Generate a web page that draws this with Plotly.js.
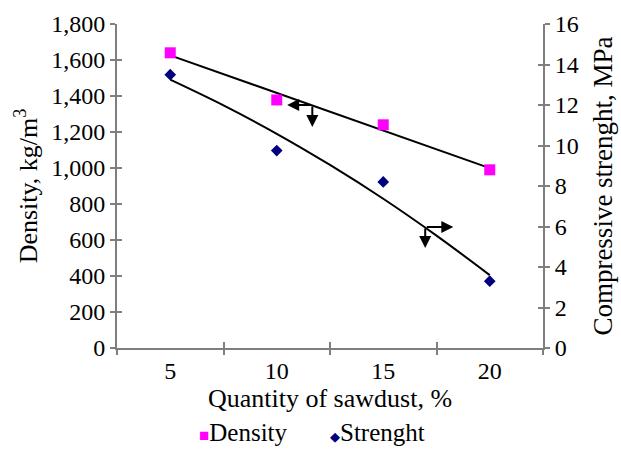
<!DOCTYPE html>
<html><head><meta charset="utf-8">
<script src="https://cdn.plot.ly/plotly-3.0.1.min.js"></script>
<style>html,body{margin:0;padding:0;background:#fff}</style>
</head><body>
<div id="chart" style="width:621px;height:450px"></div>
<script>
// Data
const sawdust = [5, 10, 15, 20];
const density = [1640, 1378, 1240, 990];
const strength = [13.5, 9.75, 8.2, 3.3];
// Trend lines as drawn in the reference
const densityTrendX = [5, 20];
const densityTrendY = [1626, 999];
const strengthTrendX = [5, 7.5, 10, 12.5, 15, 17.5, 20];
const strengthTrendY = [13.25, 11.98, 10.58, 9.04, 7.37, 5.55, 3.6];
const xTickVals = [5, 10, 15, 20];
const xBoundaries = [2.5, 7.5, 12.5, 17.5, 22.5];
const seriesNames = ['Density', 'Strenght'];

const FONT = 'Liberation Serif, Times New Roman, serif';
const AX = '#7f7f7f';
const DCOL = '#FF00FF';
const SCOL = '#000080';

const traces = [
  {x: densityTrendX, y: densityTrendY, mode: 'lines', line: {color: '#000', width: 2}, showlegend: false, hoverinfo: 'skip'},
  {x: strengthTrendX, y: strengthTrendY, yaxis: 'y2', mode: 'lines', line: {color: '#000', width: 2, shape: 'spline'}, showlegend: false, hoverinfo: 'skip'},
  {x: sawdust, y: density, name: seriesNames[0], mode: 'markers', marker: {symbol: 'square', size: 11, color: DCOL}, showlegend: false},
  {x: sawdust, y: strength, name: seriesNames[1], yaxis: 'y2', mode: 'markers', marker: {symbol: 'diamond', size: 9, color: SCOL}, showlegend: false}
];

const arrowStyle = {text: '', showarrow: true, arrowhead: 2, arrowsize: 1.2, arrowwidth: 2, arrowcolor: '#000'};

const layout = {
  width: 621, height: 450,
  margin: {l: 117, r: 78, t: 24, b: 102},
  paper_bgcolor: '#fff', plot_bgcolor: '#fff',
  font: {family: FONT, size: 24, color: '#000'},
  showlegend: false,
  xaxis: {
    range: [2.5, 22.5], tickvals: xTickVals, ticktext: xTickVals.map(String),
    ticks: '', showgrid: false, zeroline: false, showline: true, linecolor: AX, linewidth: 2,
    title: {text: 'Quantity of sawdust, %', font: {size: 26}, standoff: 6},
    tickfont: {size: 24}
  },
  xaxis2: {
    overlaying: 'x', range: [2.5, 22.5], tickvals: xBoundaries, showticklabels: false,
    ticks: 'outside', ticklen: 6, tickwidth: 2, tickcolor: AX, showgrid: false, zeroline: false, showline: false
  },
  xaxis3: {
    overlaying: 'x', range: [2.5, 22.5], tickvals: xBoundaries, showticklabels: false,
    ticks: 'inside', ticklen: 6, tickwidth: 2, tickcolor: AX, showgrid: false, zeroline: false, showline: false
  },
  yaxis: {
    range: [0, 1800], dtick: 200, tickformat: ',d', showgrid: false, zeroline: false,
    showline: true, linecolor: AX, linewidth: 2, ticks: 'outside', ticklen: 5, tickwidth: 2, tickcolor: AX,
    title: {text: 'Density, kg/m<sup>3</sup>', font: {size: 26}, standoff: 6},
    tickfont: {size: 24}
  },
  yaxis2: {
    overlaying: 'y', side: 'right', range: [0, 16], dtick: 2, showgrid: false, zeroline: false,
    showline: true, linecolor: AX, linewidth: 2, ticks: 'outside', ticklen: 5, tickwidth: 2, tickcolor: AX,
    title: {text: 'Compressive strenght, MPa', font: {size: 27}, standoff: 15},
    tickfont: {size: 24}
  },
  yaxis3: {
    overlaying: 'y', range: [0, 1800], dtick: 200, showticklabels: false, showgrid: false, zeroline: false,
    ticks: 'inside', ticklen: 5, tickwidth: 2, tickcolor: AX
  },
  yaxis4: {
    overlaying: 'y', side: 'right', range: [0, 16], dtick: 2, showticklabels: false, showgrid: false, zeroline: false,
    ticks: 'inside', ticklen: 5, tickwidth: 2, tickcolor: AX
  },
  annotations: [
    Object.assign({x: 10.49, y: 1350, xref: 'x', yref: 'y', ax: 25, ay: 0}, arrowStyle),
    Object.assign({x: 11.67, y: 1228, xref: 'x', yref: 'y', ax: 0, ay: -22}, arrowStyle),
    Object.assign({x: 18.29, y: 5.98, xref: 'x', yref: 'y2', ax: -28, ay: 0}, arrowStyle),
    Object.assign({x: 16.97, y: 4.94, xref: 'x', yref: 'y2', ax: 0, ay: -21}, arrowStyle),
    {xref: 'paper', yref: 'paper', x: 0.188, y: -0.262, xanchor: 'left', yanchor: 'middle', showarrow: false,
     text: '<span style="color:' + DCOL + ';font-size:17px">■</span>' + seriesNames[0], font: {size: 25}},
    {xref: 'paper', yref: 'paper', x: 0.495, y: -0.262, xanchor: 'left', yanchor: 'middle', showarrow: false,
     text: '<span style="color:' + SCOL + ';font-size:13px">◆</span>' + seriesNames[1], font: {size: 25}}
  ]
};

// dummy traces to activate the overlay tick axes
traces.push({x: [null], y: [null], xaxis: 'x2', showlegend: false, hoverinfo: 'skip'});
traces.push({x: [null], y: [null], xaxis: 'x3', showlegend: false, hoverinfo: 'skip'});
traces.push({x: [null], y: [null], yaxis: 'y3', showlegend: false, hoverinfo: 'skip'});
traces.push({x: [null], y: [null], yaxis: 'y4', showlegend: false, hoverinfo: 'skip'});

Plotly.newPlot('chart', traces, layout, {staticPlot: true, displayModeBar: false});
</script>
</body></html>
